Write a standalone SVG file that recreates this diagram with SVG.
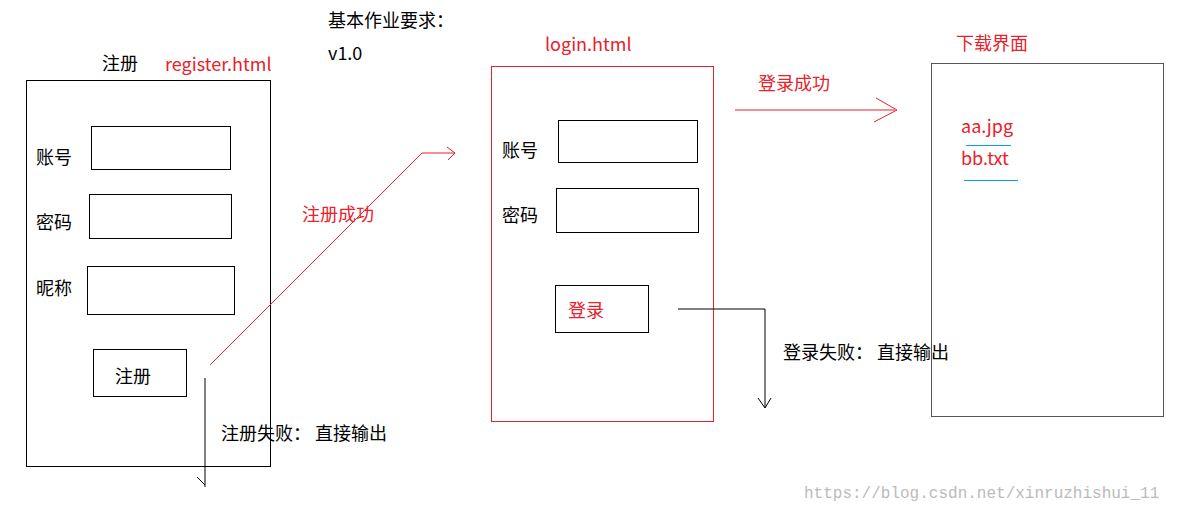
<svg xmlns="http://www.w3.org/2000/svg" width="1183" height="511" viewBox="0 0 1183 511">
<style>
text{font-family:"Noto Sans CJK SC","Microsoft YaHei",sans-serif;font-size:18px}
.k{fill:#000}.r{fill:#e8212a}
.bk{fill:none;stroke:#000;stroke-width:1}
.br{fill:none;stroke:#e8212a;stroke-width:1}
</style>
<rect width="1183" height="511" fill="#fff"/>
<g id="register">
<rect class="bk" x="26.5" y="80.5" width="244" height="386"/>
<text class="k" x="102" y="70">注册</text>
<text class="r" x="165" y="71">register.html</text>
<text class="k" x="36" y="164">账号</text>
<rect class="bk" x="91.5" y="126.5" width="139" height="43"/>
<text class="k" x="36" y="229">密码</text>
<rect class="bk" x="89.5" y="194.5" width="142" height="44"/>
<text class="k" x="36" y="295">昵称</text>
<rect class="bk" x="87.5" y="266.5" width="147" height="48"/>
<rect class="bk" x="93.5" y="349.5" width="93" height="47"/>
<text class="k" x="115" y="383">注册</text>
</g>
<g id="title">
<text class="k" x="328" y="27">基本作业要求：</text>
<text class="k" x="328" y="60">v1.0</text>
</g>
<g id="login">
<rect class="br" x="491.5" y="66.5" width="222" height="355"/>
<text class="r" x="545" y="51">login.html</text>
<text class="k" x="502" y="157">账号</text>
<rect class="bk" x="558.5" y="120.5" width="139" height="42"/>
<text class="k" x="502" y="222">密码</text>
<rect class="bk" x="556.5" y="188.5" width="142" height="44"/>
<rect class="bk" x="555.5" y="285.5" width="93" height="47"/>
<text class="r" x="568" y="317">登录</text>
</g>
<g id="download">
<rect class="bk" x="931.5" y="63.5" width="232" height="353" style="stroke:#555"/>
<text class="r" x="956" y="50">下载界面</text>
<text class="r" x="961" y="133">aa.jpg</text>
<text class="r" x="961" y="165">bb.txt</text>
<line x1="966" y1="145.5" x2="1011" y2="145.5" stroke="#0aa0e0"/>
<line x1="964" y1="180.5" x2="1018" y2="180.5" stroke="#0aa0e0"/>
</g>
<g id="connectors">
<path class="br" d="M210 365 L422 153 L454 153 M447 147 L455 153 L448 160"/>
<text class="r" x="302" y="221">注册成功</text>
<path class="bk" d="M205 378 L205 487 M197 477 L205 485"/>
<text class="k" x="221" y="440">注册失败： 直接输出</text>
<path class="br" d="M735 110 L895 110 M876 98 L897 110 L874 122"/>
<text class="r" x="758" y="90">登录成功</text>
<path class="bk" d="M678 309 L765 309 L765 408 M758 398 L765 408 L771 398"/>
<text class="k" x="783" y="359">登录失败： 直接输出</text>
</g>
<text x="804" y="498" style="font-family:'Liberation Mono',monospace;font-size:16px;fill:#bbb">https://blog.csdn.net/xinruzhishui_11</text>
</svg>
